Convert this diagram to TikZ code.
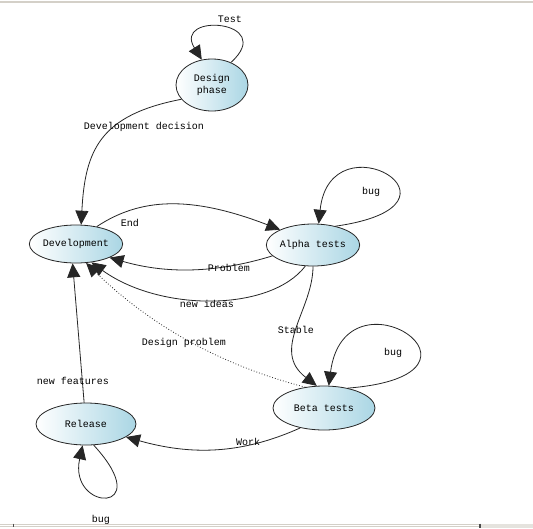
\documentclass[tikz,border=0pt]{standalone}
\usepackage{fontspec}
\newfontfamily\lblfont{Liberation Mono}
\usetikzlibrary{shapes.geometric,arrows.meta}
\definecolor{stateblue}{RGB}{170,214,228}
\definecolor{framegray}{RGB}{212,208,200}
\begin{document}
\begin{tikzpicture}[x=1pt,y=-1pt,
  every node/.style={font=\lblfont\fontsize{10}{11.5}\selectfont},
  state/.style={ellipse, draw=black!85, line width=0.8pt, inner sep=0pt,
    left color=white, right color=stateblue, align=center},
  trans/.style={draw=black!85, line width=0.8pt,
    -{Triangle[length=14pt,width=13pt]}},
  lbl/.style={inner sep=0pt, fill=none}
]
\useasboundingbox (0,0) rectangle (533,528);
\fill[white] (0,0) rectangle (533,528);
% frame lines
\draw[framegray, line width=1.2pt] (0,2) -- (533,2);

% states
\node[state, minimum width=72pt, minimum height=52pt] (design) at (212,85) {Design\\phase};
\node[state, minimum width=92pt, minimum height=38pt] (dev) at (76,244) {Development};
\node[state, minimum width=86pt, minimum height=42pt] (alpha) at (313,245) {Alpha tests};
\node[state, minimum width=102pt, minimum height=44pt] (beta) at (324,408) {Beta tests};
\node[state, minimum width=100pt, minimum height=42pt] (rel) at (86,424) {Release};

% transitions
\draw[trans] (design.50) .. controls (278,20) and (172,12) .. (design.112);
\node[lbl] (tTest) at (230,19) {Test};

\draw[trans] (design.205) .. controls (100,115) and (85,150) .. (dev.75);
\node[lbl] (tDevDec) at (144,127) {Development decision};

\draw[trans] (dev.40) .. controls (140,198) and (190,195) .. (alpha.155);
\node[lbl] (tEnd) at (130,223) {End};

\draw[trans] (alpha.195) .. controls (220,272) and (170,275) .. (dev.-22);
\node[lbl] (tProblem) at (229,268) {Problem};

\draw[trans] (alpha.250) .. controls (270,312) and (160,312) .. (dev.-50);
\node[lbl] (tIdeas) at (207,304) {new ideas};

\draw[trans] (alpha.40) .. controls (485,205) and (330,115) .. (alpha.75);
\node[lbl] (tBugA) at (371,192) {bug};

\draw[trans] (alpha.270) .. controls (313,310) and (270,350) .. (beta.108);
\node[lbl] (tStable) at (296,330) {Stable};

\draw[trans] (beta.40) .. controls (515,375) and (345,262) .. (beta.78);
\node[lbl] (tBugB) at (393,353) {bug};

\draw[trans, dotted] (beta.132) .. controls (220,365) and (150,325) .. (dev.-62);
\node[lbl] (tDesignP) at (184,343) {Design problem};

\draw[trans] (beta.220) .. controls (240,455) and (190,455) .. (rel.-18);
\node[lbl] (tWork) at (248,442) {Work};

\draw[trans] (rel.95) -- (dev.-100);
\node[lbl] (tFeat) at (73,381) {new features};

\draw[trans] (rel.-70) .. controls (158,515) and (68,512) .. (rel.-99);
\node[lbl] (tBugR) at (101,520) {bug};

% bottom scrollbar
\fill[white] (0,523.5) rectangle (533,528);
\draw[framegray, line width=0.9pt] (0,524.5) -- (480,524.5);
\draw[framegray, line width=0.9pt] (0,526.8) -- (480,526.8);
\fill[framegray!60] (481,523.5) rectangle (533,527.5);
\draw[black!70, line width=1pt] (13,523.5) -- (13,527);
\draw[black!70, line width=1.2pt] (480,523.5) -- (480,527.5);
\end{tikzpicture}
\end{document}
